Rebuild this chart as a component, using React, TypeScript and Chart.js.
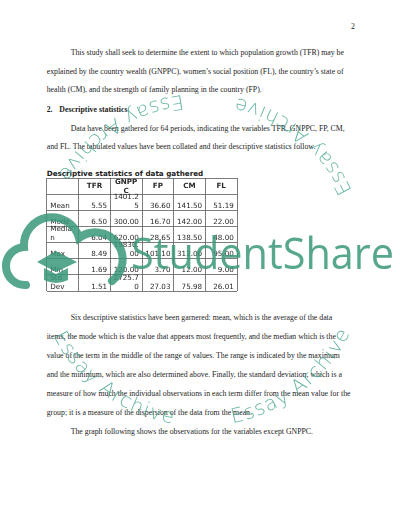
import React, { useEffect, useRef } from 'react';
import { Chart, registerables } from 'chart.js';

Chart.register(...registerables);

// ---- data ----
const columns = ['TFR', 'GNPPC', 'FP', 'CM', 'FL'];
const rowLabels = ['Mean', 'Mode', 'Median', 'Max', 'Min', 'Std Dev'];
const tfrValues = [5.55, 6.5, 6.04, 8.49, 1.69, 1.51];
const gnppcValues = [1401.25, 300.0, 620.0, 19830.0, 120.0, 2725.7];
const fpValues = [36.6, 16.7, 28.65, 101.1, 3.7, 27.03];
const cmValues = [141.5, 142.0, 138.5, 312.0, 12.0, 75.98];
const flValues = [51.19, 22.0, 48.0, 95.0, 9.0, 26.01];
const seriesValues = [tfrValues, gnppcValues, fpValues, cmValues, flValues];

const tableTitle = 'Descriptive statistics of data gathered';
const pageNumber = '2';

const textTop = [
  { t: 'This study shall seek to determine the extent to which population growth (TFR) may be', indent: true },
  { t: 'explained by the country wealth (GNPPC), women\u2019s social position (FL), the country\u2019s state of', indent: false },
  { t: 'health (CM), and the strength of family planning in the country (FP).', indent: false },
];
const headingNum = '2.';
const headingText = 'Descriptive statistics';
const textMid = [
  { t: 'Data have been gathered for 64 periods, indicating the variables TFR, GNPPC, FP, CM,', indent: true },
  { t: 'and FL. The tabulated values have been collated and their descriptive statistics follow.', indent: false },
];
const textBottom = [
  { t: 'Six descriptive statistics have been garnered: mean, which is the average of the data', indent: true },
  { t: 'items, the mode which is the value that appears most frequently, and the median which is the', indent: false },
  { t: 'value of the term in the middle of the range of values. The range is indicated by the maximum', indent: false },
  { t: 'and the minimum, which are also determined above. Finally, the standard deviation, which is a', indent: false },
  { t: 'measure of how much the individual observations in each term differ from the mean value for the', indent: false },
  { t: 'group; it is a measure of the dispersion of the data from the mean.', indent: false },
  { t: 'The graph following shows the observations for the variables except GNPPC.', indent: true },
];
const watermarkWord = 'Essay Archive';
const brandText = 'StudentShare';

// ---- style ----
const CELL_FONT = '7.2px "DejaVu Sans"';
const CELL_FONT_BOLD = 'bold 7.2px "DejaVu Sans"';
const CELL_PAD = 3.2;
const LINE_H = 8.8;
const TEAL = 'rgba(58,152,122,0.85)';
const TEAL_LIGHT = 'rgba(66,162,140,0.8)';

function wrapText(ctx: CanvasRenderingContext2D, text: string, maxW: number): string[] {
  const words = text.split(' ');
  const lines: string[] = [];
  let cur = '';
  for (const w of words) {
    const test = cur ? cur + ' ' + w : w;
    if (ctx.measureText(test).width <= maxW) {
      cur = test;
      continue;
    }
    if (cur) {
      lines.push(cur);
      cur = '';
    }
    let piece = '';
    for (const ch of w) {
      if (!piece || ctx.measureText(piece + ch).width <= maxW) piece += ch;
      else {
        lines.push(piece);
        piece = ch;
      }
    }
    cur = piece;
  }
  if (cur) lines.push(cur);
  return lines;
}

const tableTextPlugin = {
  id: 'tableText',
  afterDatasetsDraw(chart: any) {
    const ctx: CanvasRenderingContext2D = chart.ctx;
    const xs = chart.scales.x;
    const ys = chart.scales.y;
    const hw = Math.abs(xs.getPixelForValue(1) - xs.getPixelForValue(0)) / 2;
    const hh = Math.abs(ys.getPixelForValue(1) - ys.getPixelForValue(0)) / 2;
    const maxW = hw * 2 - CELL_PAD * 2;
    ctx.save();
    ctx.fillStyle = '#2a2a2a';
    ctx.textBaseline = 'alphabetic';

    // header row
    ctx.font = CELL_FONT_BOLD;
    ctx.textAlign = 'center';
    columns.forEach((c, i) => {
      const cx = xs.getPixelForValue(i + 1);
      const cy = ys.getPixelForValue(0);
      const lines = wrapText(ctx, c, maxW);
      const total = lines.length * LINE_H;
      lines.forEach((ln, k) => {
        ctx.fillText(ln, cx, cy - total / 2 + (k + 1) * LINE_H - 2.2);
      });
    });

    // row labels
    ctx.font = CELL_FONT;
    ctx.textAlign = 'left';
    rowLabels.forEach((r, j) => {
      const cx = xs.getPixelForValue(0);
      const cy = ys.getPixelForValue(j + 1);
      const lines = wrapText(ctx, r, maxW);
      const base = cy + hh - 2.5;
      lines.forEach((ln, k) => {
        ctx.fillText(ln, cx - hw + CELL_PAD, base - (lines.length - 1 - k) * LINE_H);
      });
    });

    // values, placed at each dataset point
    ctx.textAlign = 'right';
    chart.data.datasets.forEach((ds: any, di: number) => {
      const meta = chart.getDatasetMeta(di);
      meta.data.forEach((el: any, j: number) => {
        const txt = Number(ds.data[j].v).toFixed(2);
        const lines = wrapText(ctx, txt, maxW);
        const base = el.y + hh - 2.5;
        lines.forEach((ln, k) => {
          ctx.fillText(ln, el.x + hw - CELL_PAD, base - (lines.length - 1 - k) * LINE_H);
        });
      });
    });
    ctx.restore();
  },
};

function TableChart() {
  const ref = useRef<HTMLCanvasElement | null>(null);
  useEffect(() => {
    if (!ref.current) return;
    const chart = new Chart(ref.current, {
      type: 'scatter',
      data: {
        datasets: columns.map((c, ci) => ({
          label: c,
          data: rowLabels.map((r, ri) => ({ x: c, y: r, v: seriesValues[ci][ri] })) as any,
          pointRadius: 0,
          pointHoverRadius: 0,
          showLine: false,
        })),
      },
      options: {
        animation: false,
        responsive: false,
        events: [],
        layout: { padding: 5 },
        plugins: { legend: { display: false }, tooltip: { enabled: false } },
        scales: {
          x: {
            type: 'category',
            labels: ['', ...columns],
            position: 'top',
            offset: true,
            grid: { offset: true, drawTicks: false, color: '#5a5a5a', lineWidth: 0.8 },
            border: { display: false },
            ticks: { display: false },
          },
          y: {
            type: 'category',
            labels: ['', ...rowLabels],
            offset: true,
            grid: { offset: true, drawTicks: false, color: '#5a5a5a', lineWidth: 0.8 },
            border: { display: false },
            ticks: { display: false },
          },
        },
      },
      plugins: [tableTextPlugin],
    });
    return () => chart.destroy();
  }, []);
  return (
    <canvas
      ref={ref}
      width={200}
      height={123}
      style={{ position: 'absolute', left: 42, top: 173, width: 200, height: 123 }}
    />
  );
}

const serif = '"Liberation Serif", "Times New Roman", serif';
const TEXT_SHIFT = 4;

function Line({ text, y, indent, bold }: { text: string; y: number; indent?: boolean; bold?: boolean }) {
  return (
    <div
      style={{
        position: 'absolute',
        left: indent ? 70.7 : 46.7,
        top: y - TEXT_SHIFT,
        fontFamily: serif,
        fontSize: 7.8,
        lineHeight: '10px',
        whiteSpace: 'pre',
        color: '#1c1c1c',
        fontWeight: bold ? 'bold' : 'normal',
      }}
    >
      {text}
    </div>
  );
}

function Watermark() {
  const cx = 201;
  const cy = 260;
  const r = 166;
  const d = `M ${cx + r} ${cy} A ${r} ${r} 0 0 0 ${cx - r} ${cy} A ${r} ${r} 0 0 0 ${cx + r} ${cy}`;
  const starts = [24.6, 96.4, 207.1, 280.8];
  return (
    <svg
      width={400}
      height={517}
      style={{ position: 'absolute', left: 0, top: 0, pointerEvents: 'none' }}
    >
      <defs>
        <path id="wmCircle" d={d} fill="none" />
      </defs>
      {starts.map((deg, i) => (
        <text
          key={i}
          fontFamily='"DejaVu Sans", sans-serif'
          fontWeight={200}
          fontSize={20}
          letterSpacing={1.2}
          fill={TEAL_LIGHT}
        >
          <textPath href="#wmCircle" startOffset={(deg * Math.PI * r) / 180}>
            {watermarkWord}
          </textPath>
        </text>
      ))}
      {/* cloud logo */}
      <path
        d="M 26 285 A 19 19 0 0 1 24 247 A 28 28 0 0 1 79 238 A 26 26 0 0 1 112 281"
        fill="none"
        stroke={TEAL}
        strokeWidth={8}
        strokeLinecap="round"
      />
      <polygon points="37,262 56,251 77,262 56,272" fill={TEAL} />
      <path d="M 44 268 L 44 280 Q 56 286 68 280 L 68 268 L 56 274 Z" fill={TEAL} />
      <text
        x={131}
        y={269}
        fontFamily='"Open Sans", sans-serif'
        fontSize={44}
        textLength={263}
        lengthAdjust="spacingAndGlyphs"
        fill={TEAL}
      >
        {brandText}
      </text>
    </svg>
  );
}

export default function App() {
  const midStart = 127.7;
  const botStart = 316.7;
  const pitch = 18.8;
  return (
    <div
      style={{
        position: 'fixed',
        left: 0,
        top: 0,
        width: 400,
        height: 517,
        background: '#ffffff',
        overflow: 'hidden',
      }}
    >
      <div
        style={{
          position: 'absolute',
          left: 351,
          top: 22,
          fontFamily: serif,
          fontSize: 7.8,
          lineHeight: '10px',
          color: '#1c1c1c',
        }}
      >
        {pageNumber}
      </div>
      {textTop.map((l, i) => (
        <Line key={'t' + i} text={l.t} indent={l.indent} y={51.7 + i * pitch} />
      ))}
      <Line text={headingNum} y={108.7} bold />
      <div
        style={{
          position: 'absolute',
          left: 59.3,
          top: 108.7 - TEXT_SHIFT,
          fontFamily: serif,
          fontSize: 7.8,
          lineHeight: '10px',
          whiteSpace: 'pre',
          fontWeight: 'bold',
          color: '#1c1c1c',
        }}
      >
        {headingText}
      </div>
      {textMid.map((l, i) => (
        <Line key={'m' + i} text={l.t} indent={l.indent} y={midStart + i * 18.2} />
      ))}
      <div
        style={{
          position: 'absolute',
          left: 46.7,
          top: 169.3,
          fontFamily: '"DejaVu Sans", sans-serif',
          fontWeight: 'bold',
          fontSize: 7.2,
          lineHeight: '9px',
          whiteSpace: 'pre',
          color: '#1c1c1c',
        }}
      >
        {tableTitle}
      </div>
      <TableChart />
      {textBottom.map((l, i) => (
        <Line key={'b' + i} text={l.t} indent={l.indent} y={botStart + i * 19} />
      ))}
      <Watermark />
    </div>
  );
}
